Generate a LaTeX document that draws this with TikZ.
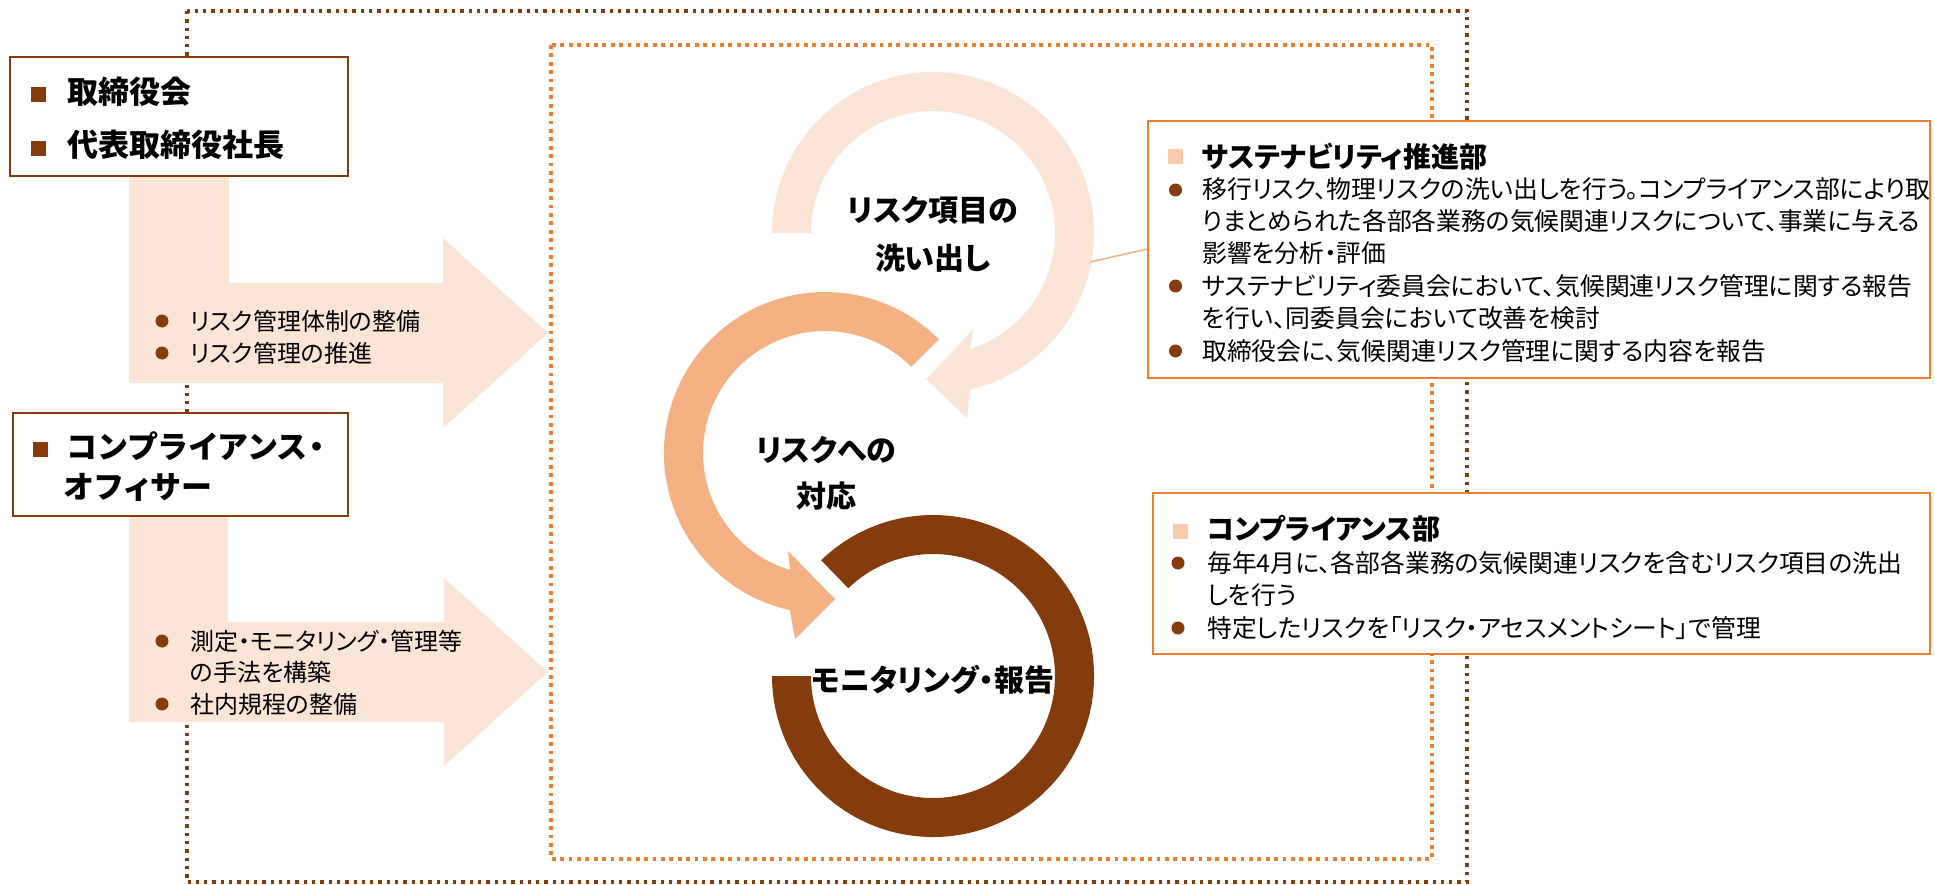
\documentclass[tikz,border=0pt]{standalone}
\usepackage{fontspec}
\setmainfont{Noto Sans CJK JP}[RawFeature={+palt}]
\definecolor{brn}{HTML}{843C0C}
\definecolor{org}{HTML}{ED7D31}
\definecolor{lpeach}{HTML}{FBE5D6}
\definecolor{mpeach}{HTML}{F4B183}
\definecolor{spq}{HTML}{F8CBAD}
\begin{document}
\begin{tikzpicture}[x=1pt,y=-1pt,
  outerdot/.style={brn, line width=3.3pt, dash pattern=on 3.3pt off 5pt},
  innerdot/.style={org, line width=3.8pt, dash pattern=on 3.8pt off 4.6pt},
  lbox/.style={draw=brn, line width=2pt, fill=white, anchor=north west, inner sep=0},
  rbox/.style={draw=org, line width=2pt, fill=white, anchor=north west, inner sep=0},
  sqb/.style={fill=brn, minimum size=15pt, inner sep=0},
  sqr/.style={fill=spq, minimum size=15pt, inner sep=0},
  dotb/.style={circle, fill=brn, minimum size=13pt, inner sep=0},
  bigtxt/.style={anchor=base west, inner sep=0, font=\fontsize{31}{36}\selectfont\bfseries},
  ctxt/.style={anchor=base, inner sep=0, font=\fontsize{30}{36}\selectfont\bfseries},
  ttl/.style={anchor=base west, inner sep=0, font=\fontsize{28}{32}\selectfont\bfseries},
  body/.style={anchor=base west, inner sep=0, font=\fontsize{24}{28}\selectfont},
  rbody/.style={anchor=base west, inner sep=0, font=\fontsize{24.8}{28}\selectfont}
]
\useasboundingbox (0,0) rectangle (1935,885);
\fill[white] (0,0) rectangle (1935,885);

% dotted frames
\draw[outerdot] (187,11) rectangle (1467,882);
\draw[innerdot] (551,45) rectangle (1432,859);

% bent light arrows
\fill[lpeach] (129,160) -- (229,160) -- (229,283) -- (443,283) -- (443,238) -- (548,333)
  -- (443,428) -- (443,383) -- (129,383) -- cycle;
\fill[lpeach] (129,500) -- (228,500) -- (228,622) -- (444,622) -- (444,578) -- (548,672)
  -- (444,766) -- (444,722) -- (129,722) -- cycle;

% left boxes
\node[lbox, minimum width=338pt, minimum height=119pt] (board) at (9,56) {};
\node[sqb] (sq1) at (38.5,95) {};
\node[bigtxt] (t1) at (67,103.5) {取締役会};
\node[sqb] (sq2) at (38.5,149) {};
\node[bigtxt] (t2) at (67,157) {代表取締役社長};

\node[lbox, minimum width=335pt, minimum height=103pt] (cof) at (12,412) {};
\node[sqb] (sq3) at (40.5,449) {};
\node[bigtxt] (t3) at (67,458) {\addfontfeature{LetterSpace=6}コンプライアンス・};
\node[bigtxt] (t4) at (64,498) {\addfontfeature{LetterSpace=6}オフィサー};

% arrow texts
\node[dotb] (a1) at (162,321) {};
\node[body] (a1t) at (190,330) {リスク管理体制の整備};
\node[dotb] (a2) at (162,353) {};
\node[body] (a2t) at (190,362) {リスク管理の推進};
\node[dotb] (b1) at (162,641) {};
\node[body] (b1t) at (190,650) {測定・モニタリング・管理等};
\node[body] (b1u) at (190,681) {の手法を構築};
\node[dotb] (b2) at (162,704) {};
\node[body] (b2t) at (190,713) {社内規程の整備};

% rings
\fill[lpeach] (772,233) arc[start angle=180, end angle=436.7, radius=161]
  -- (967,418) -- (926,379) -- (973,330) -- (970,349.3)
  arc[start angle=432.3, end angle=180, radius=122] -- cycle;
\fill[mpeach] (938.8,339.2) arc[start angle=-45, end angle=-257.4, radius=161]
  -- (795,639) -- (835,599) -- (788,551) -- (790,569.9)
  arc[start angle=-253.3, end angle=-45, radius=122] -- cycle;
\fill[brn] (821.2,560.2) arc[start angle=-134, end angle=180, radius=161]
  -- (811,676) arc[start angle=180, end angle=-134, radius=122] -- cycle;

\node[ctxt] (c1) at (933,222) {リスク項目の};
\node[ctxt] (c2) at (933,270) {洗い出し};
\node[ctxt] (c3) at (826,461) {リスクへの};
\node[ctxt] (c4) at (826,507) {対応};
\node[ctxt] (c5) at (933,691) {モニタリング・報告};

% right boxes
\node[rbox, minimum width=782pt, minimum height=257pt] (sus) at (1147,120) {};
\coordinate (lc) at (1090,262);
\coordinate (ly) at (0,249);
\draw[mpeach, line width=1.5pt] (lc) -- (sus.west |- ly);
\node[sqr] (sq4) at (1175.5,157) {};
\node[ttl] (s0) at (1202,167.5) {サステナビリティ推進部};
\node[dotb] (sd1) at (1175.5,190) {};
\node[rbody] (s1) at (1202,199) {移行リスク、物理リスクの洗い出しを行う。コンプライアンス部により取};
\node[rbody] (s2) at (1202,231) {りまとめられた各部各業務の気候関連リスクについて、事業に与える};
\node[rbody] (s3) at (1202,263) {影響を分析・評価};
\node[dotb] (sd2) at (1175.5,286) {};
\node[rbody] (s4) at (1202,295) {サステナビリティ委員会において、気候関連リスク管理に関する報告};
\node[rbody] (s5) at (1202,327) {を行い、同委員会において改善を検討};
\node[dotb] (sd3) at (1175.5,351) {};
\node[rbody] (s6) at (1202,360) {取締役会に、気候関連リスク管理に関する内容を報告};

\node[rbox, minimum width=777pt, minimum height=161pt] (cmp) at (1152,492) {};
\node[sqr] (sq5) at (1180.5,531.5) {};
\node[ttl] (m0) at (1207,539.5) {コンプライアンス部};
\node[dotb] (md1) at (1178,563) {};
\node[rbody] (m1) at (1207,572) {毎年4月に、各部各業務の気候関連リスクを含むリスク項目の洗出};
\node[rbody] (m2) at (1207,604) {しを行う};
\node[dotb] (md2) at (1178,628) {};
\node[rbody] (m3) at (1207,637) {特定したリスクを「リスク・アセスメントシート」で管理};
\end{tikzpicture}
\end{document}
